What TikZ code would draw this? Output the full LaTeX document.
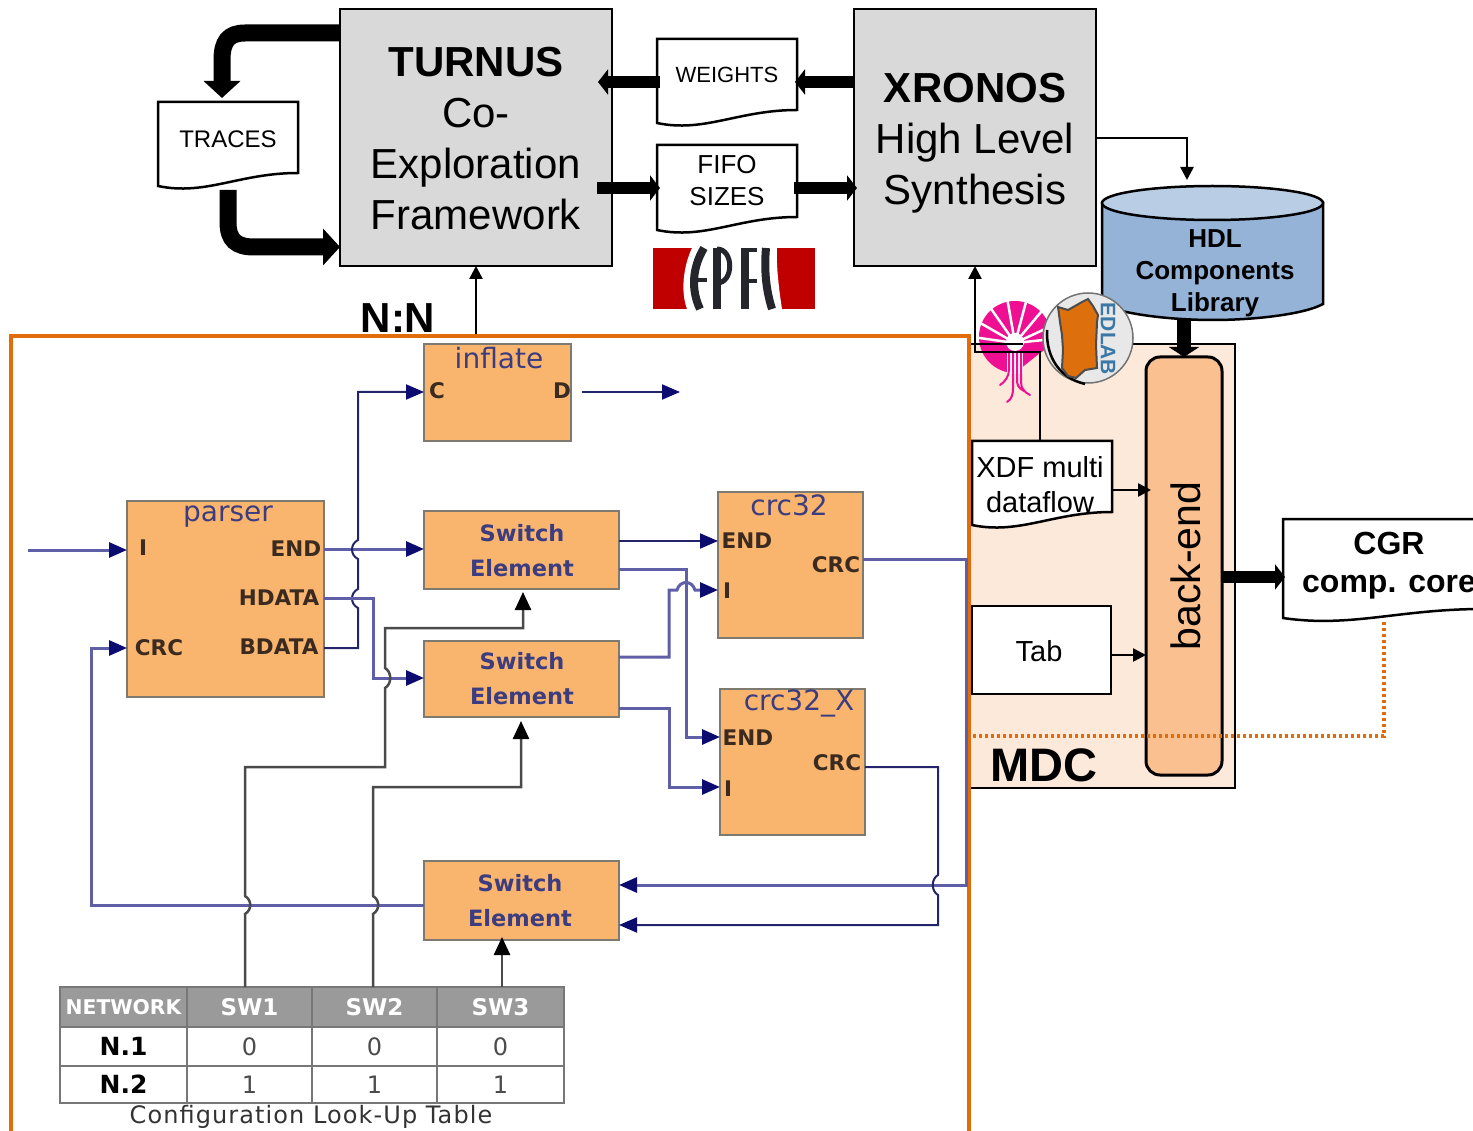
\documentclass[tikz,border=0pt]{standalone}
\usepackage{fontspec}
\setmainfont{Liberation Sans}
\newfontfamily\djf{DejaVu Sans}
\newfontfamily\djs[LetterSpace=4.5]{DejaVu Sans}
\usetikzlibrary{arrows.meta,calc}
\definecolor{grayfill}{HTML}{D9D9D9}
\definecolor{cylside}{HTML}{95B3D7}
\definecolor{cyltop}{HTML}{B9CDE5}
\definecolor{mdcfill}{HTML}{FDE9D9}
\definecolor{bendfill}{HTML}{FAC090}
\definecolor{orangeline}{HTML}{E36C0A}
\definecolor{blockfill}{HTML}{F9B56E}
\definecolor{blockline}{HTML}{7F7A70}
\definecolor{navydark}{HTML}{24246A}
\definecolor{navylight}{HTML}{5F5FA8}
\definecolor{tipnavy}{HTML}{0B0B70}
\definecolor{titleblue}{HTML}{3C3C80}
\definecolor{portbrown}{HTML}{3B2A20}
\definecolor{ctrlgray}{HTML}{4A4A4A}
\definecolor{tablegray}{HTML}{9A9A9A}
\definecolor{tableline}{HTML}{777777}
\definecolor{epflred}{HTML}{C00000}
\definecolor{epflink}{HTML}{24262C}
\definecolor{pinklogo}{HTML}{EE0F92}
\definecolor{edblue}{HTML}{3A78A8}
\definecolor{sardinia}{HTML}{DD6F0C}
\tikzset{
  fs/.style 2 args={font=\fontsize{#1}{#2}\selectfont},
  box/.style 2 args={minimum width=#1,minimum height=#2,inner sep=0pt,outer sep=0pt,anchor=center},
  greybox/.style={draw=black,line width=2.5pt,fill=grayfill},
  block/.style={draw=blockline,line width=2pt,fill=blockfill},
  txt/.style={inner sep=0pt,outer sep=0pt,align=center,text=black},
  title/.style={txt,font=\djf\fontsize{28}{32}\selectfont,text=titleblue},
  sw/.style={txt,font=\djf\bfseries\fontsize{22.5}{35}\selectfont,text=titleblue},
  port/.style={txt,font=\djf\bfseries\fontsize{21.5}{28}\selectfont,text=portbrown},
  cell/.style={draw=tableline,line width=2.5pt,inner sep=0pt,outer sep=0pt,text=black},
  head/.style={cell,fill=tablegray,text=white,font=\djf\bfseries\fontsize{23}{30}\selectfont},
  body/.style={cell,fill=white,font=\djf\fontsize{24}{28}\selectfont,text=black!70},
  rowh/.style={cell,fill=white,font=\djf\fontsize{25}{28}\selectfont\bfseries},
  heavy/.style={line width=17pt,-{Triangle[length=17pt,width=36pt]}},
  medium/.style={line width=12pt,-{Triangle[length=10pt,width=25pt]}},
  thin/.style={draw=black,line width=2.5pt,-{Triangle[length=13pt,width=13pt]}},
  sig/.style={line width=2pt,draw=navydark,-{Triangle[length=18pt,width=15pt,color=tipnavy]}},
  siglight/.style={sig,line width=3pt,draw=navylight},
  ctrl/.style={line width=2.5pt,draw=ctrlgray,-{Triangle[length=18pt,width=16pt,color=black]}},
  docline/.style={draw=black,line width=2.5pt,fill=white,line join=miter},
}
% document outline for a named box: #1 name, #2 width, #3 drop of the left end below the box
\newcommand{\docwave}[3]{%
  \draw[docline] (#1.north west) -- (#1.north east) -- (#1.south east)
    .. controls +({-0.42*#2},0) and +({0.34*#2},10) .. ($(#1.south west)+(0,#3)$) -- cycle;}
\begin{document}
\begin{tikzpicture}[x=1pt,y=-1pt]
\useasboundingbox (0,0) rectangle (1473,1131);
\clip (0,0) rectangle (1473,1131);

%% ---- MDC panel
\node[box={266pt}{444pt},draw=black,line width=2.5pt,fill=mdcfill] (mdc) at (1102,566) {};
\node[txt,font=\bfseries\fontsize{47}{50}\selectfont] (mdcT) at (1044,765) {MDC};

%% ---- top boxes
\node[box={272pt}{257pt},greybox] (turnus) at (476,137.5) {};
\node[txt,fs={42}{51}] (turnusT) at (476,139) {{\bfseries TURNUS}\\Co-\\Exploration\\Framework};
\node[box={242pt}{257pt},greybox] (xronos) at (975,137.5) {};
\node[txt,fs={42}{51}] (xronosT) at (975,143) {{\bfseries XRONOS}\\High Level\\Synthesis};

%% ---- documents
\node[box={140pt}{71pt}] (traces) at (228,137.5) {};
\docwave{traces}{140}{13}
\node[txt,fs={24}{28}] (tracesT) at (228,139) {TRACES};
\node[box={140pt}{71pt}] (weights) at (727,74.5) {};
\docwave{weights}{140}{13}
\node[txt,fs={22}{26}] (weightsT) at (727,75) {WEIGHTS};
\node[box={140pt}{72pt}] (fifo) at (727,181) {};
\docwave{fifo}{140}{13}
\node[txt,fs={26}{32}] (fifoT) at (727,181) {FIFO\\SIZES};
\node[box={140pt}{71pt}] (xdf) at (1042,476.5) {};
\docwave{xdf}{140}{13}
\node[txt,fs={29}{35}] (xdfT) at (1040,485) {XDF multi\\dataflow};
\node[box={200pt}{90pt}] (cgr) at (1383,564) {};
\docwave{cgr}{200}{9}
\node[txt,font=\bfseries\fontsize{32}{38}\selectfont] (cgrT) at (1389,566) {CGR\\comp. core};

%% ---- Tab
\node[box={139pt}{88pt},draw=black,line width=2.5pt,fill=white] (tab) at (1041.5,650) {};
\node[txt,fs={29}{34}] (tabT) at (1039,651) {Tab};

%% ---- back-end
\node[box={76pt}{418pt},draw=black,line width=3pt,fill=bendfill,rounded corners=14pt] (bend) at (1184,566) {};
\node[txt,fs={41}{46},rotate=90] (bendT) at (1186,566) {back-end};

%% ---- HDL cylinder
\draw[black,line width=2.5pt,fill=cylside] (1102,203) -- (1102,304) .. controls (1120,314) and (1170,320) .. (1213,320) .. controls (1256,320) and (1305,314) .. (1323,304) -- (1323,203) -- cycle;
\draw[black,line width=2.5pt,fill=cyltop] (1212.5,203) ellipse [x radius=110.5pt,y radius=17pt];
\node[txt,font=\bfseries\fontsize{26}{32}\selectfont] (hdlT) at (1215,273) {HDL\\Components\\Library};
\coordinate (hdlBottom) at (1184,320);

%% ---- EPFL logo
\fill[epflred] (653,248) rectangle (815,309);
\fill[white] (692,248) .. controls (684,265) and (680,290) .. (687,309) -- (782,309) .. controls (779,290) and (776,265) .. (777,248) -- cycle;
\begin{scope}[draw=epflink,line width=8pt,line cap=butt]
  \draw (704,248) .. controls (692,268) and (691,290) .. (700,309);
  \draw[line width=4pt] (695,280) -- (707,280);
  \draw (717,248) -- (717,309);
  \draw[line width=5pt] (717,249) .. controls (734,249) and (734,283) .. (717,283);
  \draw (745,248) -- (745,309);
  \draw[line width=4pt] (745,250) -- (757,250);
  \draw[line width=4pt] (745,281) -- (757,281);
  \draw (766,248) .. controls (764,270) and (766,290) .. (772,309);
\end{scope}

%% ---- Pink logo
\fill[pinklogo] (1015,373) .. controls (995,373) and (979,357) .. (979,337)
   .. controls (979,317) and (995,301) .. (1015,301)
   .. controls (1035,301) and (1051,317) .. (1051,337)
   .. controls (1051,343) and (1047,349) .. (1040,353) -- cycle;
\begin{scope}[white,line width=2.5pt]
  \foreach \a in {172,150,125,100,75,50,25,6}{\draw (1015,343) -- ++(\a:44pt);}
\end{scope}
\fill[white] (1015,342) circle [radius=9pt];
\fill[white] (1007,352) rectangle (1023,374);
\begin{scope}[pinklogo,line width=2pt,line cap=round]
  \draw (1009,352) -- (1009,370) .. controls (1009,376) and (1005,382) .. (1000,385);
  \draw (1013,352) -- (1013,388) .. controls (1013,394) and (1012,399) .. (1007,402);
  \draw (1017,352) -- (1017,380) .. controls (1017,384) and (1018,388) .. (1024,391);
  \draw (1021,352) -- (1021,382) .. controls (1021,388) and (1024,392) .. (1030,395);
\end{scope}

%% ---- XDF link up to XRONOS
\draw[thin] (xdf.north -| 1040,0) -- (1040,352) -- (975,352) -- (xronos.south -| 975,0);
\draw[black,line width=2pt] (970,344) -- (1023,344);

%% ---- EDLAB logo
\draw[fill=black!9,draw=black!55,line width=1.5pt] (1088,338) circle [radius=45pt];
\draw[black,line width=2.5pt] (1047,330) .. controls (1046,358) and (1060,378) .. (1085,384);
\draw[black!70,line width=2pt,fill=sardinia]
  (1058,307) -- (1068,310) -- (1082,302) -- (1088,299) -- (1093,306) -- (1098,315) -- (1097,322) -- (1096,345) -- (1097,368) -- (1085,370) -- (1076,378) -- (1068,376) -- (1062,368) -- (1063,350) -- (1062,335) -- (1060,322) -- cycle;
\node[txt,rotate=-90,text=edblue,font=\bfseries\fontsize{21}{24}\selectfont] (edlabT) at (1108,339) {EDLAB};

%% ---- thin links and heavy arrows (top)
\draw[thin] (xronos.east |- 0,138) -- (1187,138) -- (1187,180);
\draw[thin] (turnus.north |- 0,336) -- (turnus.south);
\draw[heavy] (turnus.west |- 0,33) -- (245,33) .. controls (228,33) and (222,42) .. (222,60) -- (222,98);
\draw[heavy] ($(traces.south -| 228,0)+(0,17)$) -- (228,222) .. controls (228,240) and (236,247) .. (254,247) -- (turnus.west |- 0,247);
\draw[medium] (xronos.west |- 0,82) -- ($(weights.east |- 0,82)+(-2,0)$);
\draw[medium] (weights.west |- 0,82) ++(3,0) -- ($(turnus.east |- 0,82)+(-14,0)$);
\draw[medium] ($(turnus.east |- 0,188)+(-15,0)$) -- ($(fifo.west |- 0,188)+(3,0)$);
\draw[medium] ($(fifo.east |- 0,188)+(-3,0)$) -- ($(xronos.west |- 0,188)+(3,0)$);
\draw[line width=14pt,-{Triangle[length=10pt,width=30pt]}] (hdlBottom) -- (bend.north -| 1184,0);
\draw[medium] (bend.east |- 0,577) -- ($(cgr.west |- 0,577)+(2,0)$);
\draw[thin] (xdf.east |- 0,490) -- ($(bend.west |- 0,490)+(5,0)$);
\draw[thin] (tab.east |- 0,655) -- (bend.west |- 0,655);
\draw[orangeline,line width=3.5pt,dash pattern=on 3pt off 3pt] (1384,622) -- (1384,736) -- (969,736);

%% ---- N:N panel
\draw[orangeline,line width=3.5pt] (11,1140) -- (11,336) -- (969,336) -- (969,1140);
\node[txt,font=\bfseries\fontsize{42}{46}\selectfont] (nnT) at (398,318) {N:N};

%% ---- blocks
\node[box={147pt}{97pt},block] (inflate) at (497.5,392.5) {};
\node[title] (inflateT) at (499,358) {inflate};
\node[port] (infC) at (437,391) {C};
\node[port] (infD) at (562,391) {D};
\node[box={197pt}{196pt},block] (parser) at (225.5,599) {};
\node[title] (parserT) at (228,517) {parser};
\node[port] (parI) at (143,548) {I};
\node[port] (parC) at (159,648) {CRC};
\node[port] (parE) at (296,549) {END};
\node[port] (parH) at (279,598) {HDATA};
\node[port] (parB) at (279,647) {BDATA};
\node[box={195pt}{78pt},block] (se1) at (521.5,550) {};
\node[sw] (se1T) at (522,551) {Switch\\Element};
\node[box={195pt}{76pt},block] (se2) at (521.5,679) {};
\node[sw] (se2T) at (522,678.5) {Switch\\Element};
\node[box={195pt}{79pt},block] (se3) at (521.5,900.5) {};
\node[sw] (se3T) at (520,901) {Switch\\Element};
\node[box={145pt}{146pt},block] (crc) at (790.5,565) {};
\node[title] (crcT) at (789,505) {crc32};
\node[port] (crcE) at (747,541) {END};
\node[port] (crcC) at (836,565) {CRC};
\node[port] (crcI) at (727,591) {I};
\node[box={145pt}{146pt},block] (crcx) at (792.5,762) {};
\node[title] (crcxT) at (799,703) {crc32\_X};
\node[port] (crcxE) at (748,738) {END};
\node[port] (crcxC) at (837,763) {CRC};
\node[port] (crcxI) at (728,789) {I};

%% ---- table
\node[head,font=\djf\bfseries\fontsize{20.3}{24}\selectfont,minimum width=127pt,minimum height=40pt] (tn) at (123.5,1007) {NETWORK};
\node[head,minimum width=125pt,minimum height=40pt] (t1) at (249.5,1007) {SW1};
\node[head,minimum width=125pt,minimum height=40pt] (t2) at (374.5,1007) {SW2};
\node[head,minimum width=127pt,minimum height=40pt] (t3) at (500.5,1007) {SW3};
\node[rowh,minimum width=127pt,minimum height=39pt] (r1) at (123.5,1046.5) {N.1};
\node[body,minimum width=125pt,minimum height=39pt] (r11) at (249.5,1046.5) {0};
\node[body,minimum width=125pt,minimum height=39pt] (r12) at (374.5,1046.5) {0};
\node[body,minimum width=127pt,minimum height=39pt] (r13) at (500.5,1046.5) {0};
\node[rowh,minimum width=127pt,minimum height=37pt] (r2) at (123.5,1084.5) {N.2};
\node[body,minimum width=125pt,minimum height=37pt] (r21) at (249.5,1084.5) {1};
\node[body,minimum width=125pt,minimum height=37pt] (r22) at (374.5,1084.5) {1};
\node[body,minimum width=127pt,minimum height=37pt] (r23) at (500.5,1084.5) {1};
\node[txt,font=\djs\fontsize{24}{26}\selectfont,text=black!80] (capT) at (311,1117) {Configuration Look-Up Table};

%% ---- free ends
\coordinate (inStart) at (28,550);
\coordinate (outEnd) at (680,392);
\coordinate (dOut) at (582,392);

%% ---- signal connectors
\draw[siglight] (inStart) -- (parser.west |- inStart);
\draw[sig] (dOut) -- (outEnd);
\draw[siglight] (parser.east |- 0,549) -- (se1.west |- 0,549);
\draw[sig] (parser.east |- 0,648) -- (358,648) -- (358,608)
   .. controls (350,604) and (350,593) .. (358,589) -- (358,559)
   .. controls (350,555) and (350,544) .. (358,540) -- (358,392) -- (inflate.west |- 0,392);
\draw[siglight] (parser.east |- 0,598) -- (373,598) -- (373,678) -- (se2.west |- 0,678);
\draw[sig] (se1.east |- 0,541) -- (crc.west |- 0,541);
\draw[siglight] (se1.east |- 0,569) -- (686,569) -- (686,737) -- (crcx.west |- 0,737);
\draw[siglight] (se2.east |- 0,657) -- (669,657) -- (669,590) -- (677,590)
   .. controls (680,580) and (692,580) .. (695,590) -- (crc.west |- 0,590);
\draw[siglight] (se2.east |- 0,708) -- (669,708) -- (669,787) -- (crcx.west |- 0,787);
\draw[siglight] (crc.east |- 0,559) -- (966,559) -- (966,885) -- (se3.east |- 0,885);
\draw[sig] (crcx.east |- 0,767) -- (938,767) -- (938,875)
   .. controls (931,879) and (931,891) .. (938,895) -- (938,925) -- (se3.east |- 0,925);
\draw[siglight] (se3.west |- 0,905) -- (91,905) -- (91,648) -- (parser.west |- 0,648);

%% ---- control connectors
\draw[ctrl] (t1.north -| 245,0) -- (245,914)
   .. controls (252,910) and (252,900) .. (245,896) -- (245,767) -- (385,767) -- (385,688)
   .. controls (392,684) and (392,672) .. (385,668) -- (385,628) -- (523,628) -- ($(se1.south -| 523,0)+(0,3)$);
\draw[ctrl] (t2.north -| 373,0) -- (373,914)
   .. controls (380,910) and (380,900) .. (373,896) -- (373,787) -- (521,787) -- ($(se2.south -| 521,0)+(0,4)$);
\draw[ctrl] (t3.north -| 502,0) -- ($(se3.south -| 502,0)+(0,-3)$);
\end{tikzpicture}
\end{document}
